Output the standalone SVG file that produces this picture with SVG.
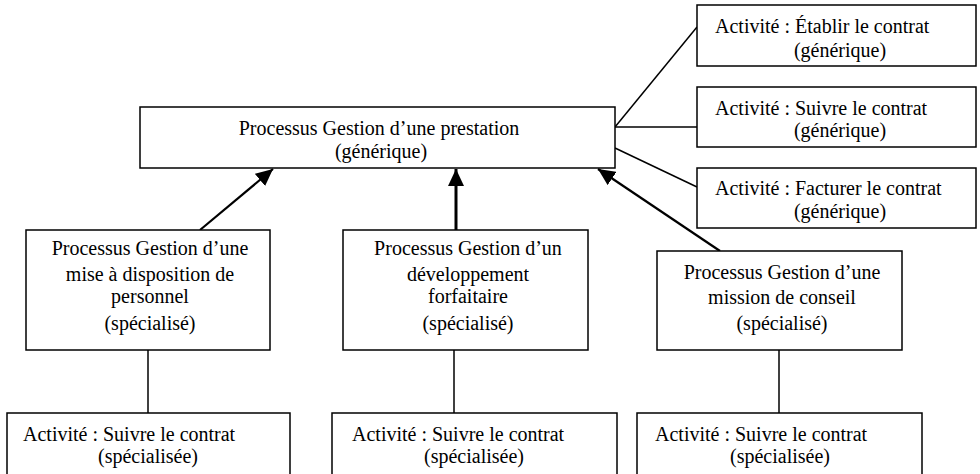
<svg xmlns="http://www.w3.org/2000/svg" width="980" height="474" viewBox="0 0 980 474">
<style>
rect{fill:#fff;stroke:#000;stroke-width:1.5}
text{font-family:"Liberation Serif","Times New Roman",serif;font-size:20px;fill:#000}
.c{text-anchor:middle}
.ln{stroke:#000;stroke-width:1.5;fill:none}
.ar{stroke:#000;stroke-width:2.2;fill:none;marker-end:url(#ah)}
.arb{stroke:#000;stroke-width:3;fill:none;marker-end:url(#ah)}
</style>
<defs>
<marker id="ah" markerUnits="userSpaceOnUse" markerWidth="18" markerHeight="16" viewBox="0 0 18 16" refX="17" refY="8" orient="auto">
<path d="M0,0 L17,8 L0,16 Z" fill="#000"/>
</marker>
</defs>
<rect width="980" height="474" style="stroke:none"/>
<g id="connectors">
<line class="ln" x1="615" y1="127" x2="697" y2="27"/>
<line class="ln" x1="615" y1="127" x2="697" y2="127"/>
<line class="ln" x1="615" y1="148" x2="697" y2="187"/>
<line class="ar" x1="200" y1="230" x2="273" y2="169"/>
<line class="arb" x1="456" y1="230" x2="456" y2="169"/>
<line class="ar" x1="720" y1="251" x2="598" y2="169"/>
<line class="ln" x1="148" y1="350" x2="148" y2="413"/>
<line class="ln" x1="454" y1="350" x2="454" y2="413"/>
<line class="ln" x1="779" y1="350" x2="779" y2="413"/>
</g>
<g id="main">
<rect x="140" y="107" width="475" height="61"/>
<text class="c" x="379" y="135">Processus Gestion d’une prestation</text>
<text class="c" x="381" y="158">(générique)</text>
</g>
<g id="act-etablir">
<rect x="697" y="5" width="279" height="61"/>
<text x="715" y="33">Activité : Établir le contrat</text>
<text class="c" x="840" y="57">(générique)</text>
</g>
<g id="act-suivre">
<rect x="697" y="87" width="279" height="60"/>
<text x="715" y="115">Activité : Suivre le contrat</text>
<text class="c" x="840" y="137">(générique)</text>
</g>
<g id="act-facturer">
<rect x="697" y="168" width="279" height="60"/>
<text x="715" y="195">Activité : Facturer le contrat</text>
<text class="c" x="840" y="218">(générique)</text>
</g>
<g id="proc-mad">
<rect x="26" y="230" width="244" height="120"/>
<text class="c" x="150" y="255">Processus Gestion d’une</text>
<text class="c" x="150" y="281">mise à disposition de</text>
<text class="c" x="150" y="303">personnel</text>
<text class="c" x="150" y="330">(spécialisé)</text>
</g>
<g id="proc-dev">
<rect x="343" y="230" width="245" height="120"/>
<text class="c" x="468" y="255">Processus Gestion d’un</text>
<text class="c" x="468" y="281">développement</text>
<text class="c" x="468" y="303">forfaitaire</text>
<text class="c" x="468" y="330">(spécialisé)</text>
</g>
<g id="proc-conseil">
<rect x="657" y="251" width="245" height="99"/>
<text class="c" x="782" y="279">Processus Gestion d’une</text>
<text class="c" x="782" y="304">mission de conseil</text>
<text class="c" x="782" y="330">(spécialisé)</text>
</g>
<g id="act-suivre-mad">
<rect x="7" y="413" width="283" height="62"/>
<text x="23" y="441">Activité : Suivre le contrat</text>
<text class="c" x="148" y="463">(spécialisée)</text>
</g>
<g id="act-suivre-dev">
<rect x="332" y="413" width="285" height="62"/>
<text x="352" y="441">Activité : Suivre le contrat</text>
<text class="c" x="474" y="463">(spécialisée)</text>
</g>
<g id="act-suivre-conseil">
<rect x="637" y="413" width="285" height="62"/>
<text x="655" y="441">Activité : Suivre le contrat</text>
<text class="c" x="780" y="463">(spécialisée)</text>
</g>
</svg>
